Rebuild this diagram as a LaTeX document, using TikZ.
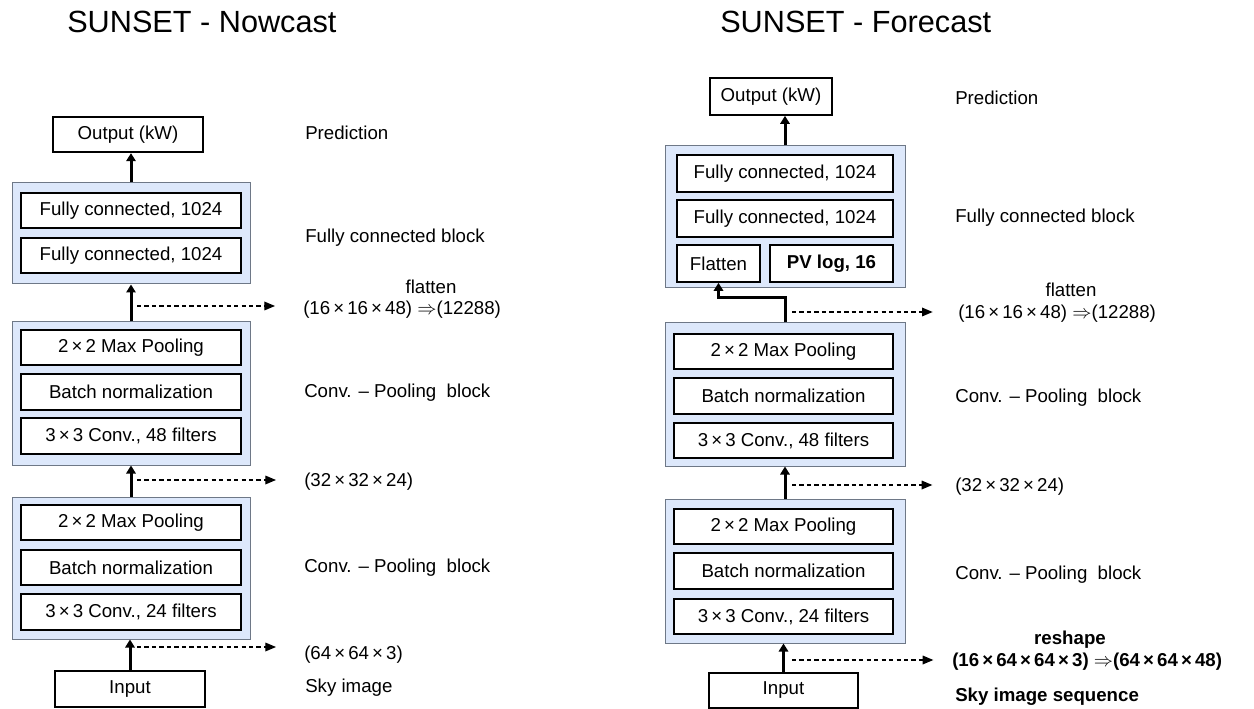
\documentclass[tikz,border=0pt]{standalone}
\usepackage{fontspec}
\setmainfont{Liberation Sans}
\usetikzlibrary{arrows.meta}
\definecolor{blockfill}{RGB}{221,232,251}
\definecolor{blockline}{RGB}{110,120,135}

\begin{document}
\begin{tikzpicture}
[x=0.75pt, y=-0.75pt,
 every node/.style={inner sep=0pt, font=\fontsize{14}{16}\selectfont},
 layer/.style={draw=black, fill=white, line width=1.5pt, minimum height=26.5pt},
 block/.style={draw=blockline, fill=blockfill, line width=0.75pt},
 flow/.style={line width=2.25pt, -{Triangle[length=6pt, width=7pt]}},
 tap/.style={line width=0.9pt, dash pattern=on 3.2pt off 2.4pt, -{Triangle[length=8pt, width=6.5pt]}, shorten >=#1},
 note/.style={anchor=west},
 title/.style={anchor=west, font=\fontsize{23}{27}\selectfont}]
\useasboundingbox (0,0) rectangle (1254,709);

\node[title] (tL) at (67,22) {SUNSET - Nowcast};
\node[title] (tR) at (720,22) {SUNSET - Forecast};

\node[layer, minimum width=112.5pt] (outL) at (128,134.5) {Output (kW)};
\node[block, minimum width=178.5pt, minimum height=75.75pt] (fcL) at (131,233.5) {};
\node[layer, minimum width=165pt] (fcL1) at (131,210.5) {Fully connected, 1024};
\node[layer, minimum width=165pt] (fcL2) at (131,255.5) {Fully connected, 1024};
\node[block, minimum width=178.5pt, minimum height=107.25pt] (cvL2) at (131,393.5) {};
\node[layer, minimum width=165pt] (cvL2a) at (131,347.5) {2\,×\,2 Max Pooling};
\node[layer, minimum width=165pt] (cvL2b) at (131,392) {Batch normalization};
\node[layer, minimum width=165pt] (cvL2c) at (131,436) {3\,×\,3 Conv., 48 filters};
\node[block, minimum width=178.5pt, minimum height=106.5pt] (cvL1) at (131,568) {};
\node[layer, minimum width=165pt] (cvL1a) at (131,522.5) {2\,×\,2 Max Pooling};
\node[layer, minimum width=165pt] (cvL1b) at (131,567.5) {Batch normalization};
\node[layer, minimum width=165pt] (cvL1c) at (131,612) {3\,×\,3 Conv., 24 filters};
\node[layer, minimum width=112.5pt] (inL) at (130,689) {Input};

\draw[flow] (fcL.north) -- (outL.south -| fcL.north);
\draw[flow] (cvL2.north) -- (fcL.south);
\draw[flow] (cvL1.north) -- (cvL2.south);
\draw[flow] (inL.north) -- (cvL1.south -| inL.north);

\node[note] (pL) at (305,133) {Prediction};
\node[note] (fbL) at (305,238) {Fully connected block};
\node (flL) at (431,287) {flatten};
\node[note] (shL3) at (303,310) {(16\,×\,16\,×\,48) $\Rightarrow$(12288)};
\node[note] (cbL2) at (304,393) {Conv. – Pooling~ block};
\node[note] (shL2) at (304,482) {(32\,×\,32\,×\,24)};
\node[note] (cbL1) at (304,568) {Conv. – Pooling~ block};
\node[note] (shL1) at (304,655) {(64\,×\,64\,×\,3)};
\node[note] (skL) at (305,688) {Sky image};

\coordinate (dL3) at (137,306);
\coordinate (dL2) at (137,480);
\coordinate (dL1) at (137,647);
\draw[tap=21pt] (dL3) -- (dL3 -| shL3.west);
\draw[tap=21pt] (dL2) -- (dL2 -| shL2.west);
\draw[tap=21pt] (dL1) -- (dL1 -| shL1.west);

\node[layer, minimum width=91.5pt, minimum height=27.5pt] (outR) at (771,96.5) {Output (kW)};
\node[block, minimum width=180pt, minimum height=106.5pt] (fcR) at (785,217) {};
\node[layer, minimum width=162pt, minimum height=27.5pt] (fcR1) at (785,173.5) {Fully connected, 1024};
\node[layer, minimum width=162pt, minimum height=27.5pt] (fcR2) at (785,218.5) {Fully connected, 1024};
\node[layer, minimum width=62.25pt, minimum height=27.5pt] (flat) at (718.5,263.5) {Flatten};
\node[layer, minimum width=92.25pt, minimum height=27.5pt] (pvlog) at (831.5,263.5) {\bfseries PV log, 16};
\node[block, minimum width=180pt, minimum height=107.25pt] (cvR2) at (785,394.5) {};
\node[layer, minimum width=164pt] (cvR2a) at (783.5,351.5) {2\,×\,2 Max Pooling};
\node[layer, minimum width=164pt] (cvR2b) at (783.5,396) {Batch normalization};
\node[layer, minimum width=164pt] (cvR2c) at (783.5,440.5) {3\,×\,3 Conv., 48 filters};
\node[block, minimum width=180pt, minimum height=108pt] (cvR1) at (785,571) {};
\node[layer, minimum width=164pt] (cvR1a) at (783.5,526.5) {2\,×\,2 Max Pooling};
\node[layer, minimum width=164pt] (cvR1b) at (783.5,571) {Batch normalization};
\node[layer, minimum width=164pt] (cvR1c) at (783.5,616.5) {3\,×\,3 Conv., 24 filters};
\node[layer, minimum width=112pt] (inR) at (783.5,690.5) {Input};

\draw[flow] (fcR.north) -- (outR.south -| fcR.north);
\draw[flow] (cvR2.north) -- ++(0,-25) -| (flat.south);
\draw[flow] (cvR1.north) -- (cvR2.south);
\draw[flow] (inR.north) -- (cvR1.south -| inR.north);

\node[note] (pR) at (955,98) {Prediction};
\node[note] (fbR) at (955,218) {Fully connected block};
\node (flR) at (1071,290) {flatten};
\node[note] (shR3) at (958,314) {(16\,×\,16\,×\,48) $\Rightarrow$(12288)};
\node[note] (cbR2) at (955,398) {Conv. – Pooling~ block};
\node[note] (shR2) at (955,487) {(32\,×\,32\,×\,24)};
\node[note] (cbR1) at (955,575) {Conv. – Pooling~ block};
\node (rsR) at (1070,640) {\bfseries reshape};
\node[note] (shR1) at (952,662) {\bfseries (16\,×\,64\,×\,64\,×\,3) $\Rightarrow$(64\,×\,64\,×\,48)};
\node[note] (skR) at (955,697) {\bfseries Sky image sequence};

\coordinate (dR3) at (792,312);
\coordinate (dR2) at (792,485);
\coordinate (dR1) at (792,660);
\draw[tap=19pt] (dR3) -- (dR3 -| shR3.west);
\draw[tap=17pt] (dR2) -- (dR2 -| shR2.west);
\draw[tap=14pt] (dR1) -- (dR1 -| shR1.west);
\end{tikzpicture}
\end{document}
